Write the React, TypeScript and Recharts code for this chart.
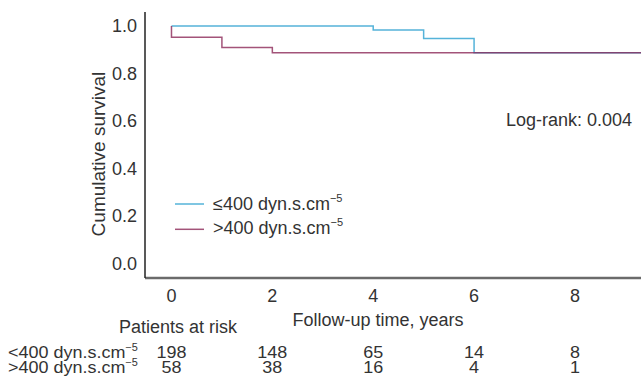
import React from "react";
import { LineChart, Line, XAxis, YAxis, Customized } from "recharts";

// Kaplan-Meier step data (years, survival)
const lowTimes = [0, 4, 5, 6, 9.31];
const lowSurv = [1.0, 0.983, 0.947, 0.887, 0.887];
const highTimes = [0, 0, 1, 2, 9.31];
const highSurv = [1.0, 0.953, 0.909, 0.887, 0.887];

const xTicks = [0, 2, 4, 6, 8];
const yTicks = [0, 0.2, 0.4, 0.6, 0.8, 1.0];
const riskLow = [198, 148, 65, 14, 8];
const riskHigh = [58, 38, 16, 4, 1];

const groupLow = "≤400 dyn.s.cm";
const groupHigh = ">400 dyn.s.cm";
const rowLow = "<400 dyn.s.cm";
const rowHigh = ">400 dyn.s.cm";
const sup = "−5";
const logRank = "Log-rank: 0.004";

const lowData = lowTimes.map((t, i) => ({ t, s: lowSurv[i] }));
const highData = highTimes.map((t, i) => ({ t, s: highSurv[i] }));

const FONT = "'Liberation Sans', Arial, Helvetica, sans-serif";
const TXT = "#333";
const BLUE = "#55b3d9";
const RED = "#8c2857";
const FS = 18;
const RFS = 16.5; // at-risk rows font size (slightly widened)
const RSX = 1.09;

const XTick = (props: any) => {
  const { x, y, payload, index } = props;
  return (
    <g>
      <text x={x} y={y + 15.5} textAnchor="middle" fontSize={FS} fill={TXT} fontFamily={FONT}>
        {payload.value}
      </text>
      <text
        transform={`translate(${x} ${y + 72}) scale(${RSX} 1)`}
        textAnchor="middle"
        fontSize={RFS}
        fill={TXT}
        fontFamily={FONT}
      >
        {riskLow[index]}
      </text>
      <text
        transform={`translate(${x} ${y + 87}) scale(${RSX} 1)`}
        textAnchor="middle"
        fontSize={RFS}
        fill={TXT}
        fontFamily={FONT}
      >
        {riskHigh[index]}
      </text>
    </g>
  );
};

const Overlay = () => (
  <g fontFamily={FONT} fill={TXT} fontSize={FS}>
    <text x={378} y={325.5} textAnchor="middle">Follow-up time, years</text>
    <text x={178} y={332.5} textAnchor="middle">Patients at risk</text>
    <text transform={`translate(8 358) scale(${RSX} 1)`} fontSize={RFS}>
      {rowLow}
      <tspan dy={-7.5} fontSize={10}>{sup}</tspan>
    </text>
    <text transform={`translate(8 373) scale(${RSX} 1)`} fontSize={RFS}>
      {rowHigh}
      <tspan dy={-7.5} fontSize={10}>{sup}</tspan>
    </text>
    <text x={632} y={126} textAnchor="end">{logRank}</text>
    <line x1={175} x2={204} y1={204} y2={204} stroke={BLUE} strokeWidth={1.5} />
    <line x1={175} x2={204} y1={229.3} y2={229.3} stroke={RED} strokeOpacity={0.8} strokeWidth={1.5} />
    <text x={213} y={210}>
      {groupLow}
      <tspan dy={-8} fontSize={11}>{sup}</tspan>
    </text>
    <text x={213} y={233.5}>
      {groupHigh}
      <tspan dy={-8} fontSize={11}>{sup}</tspan>
    </text>
  </g>
);

export default function App() {
  return (
    <div style={{ position: "absolute", left: 0, top: 0, width: 641, height: 386, background: "#fff" }}>
      <LineChart width={641} height={386} margin={{ top: 12, right: 0, left: 0, bottom: 78 }}>
        <XAxis
          type="number"
          dataKey="t"
          domain={[-0.525, 9.31]}
          ticks={xTicks}
          tickLine={false}
          axisLine={{ stroke: "#6b6b6b", strokeWidth: 2.5 }}
          tick={<XTick />}
          height={30}
          allowDataOverflow
        />
        <YAxis
          type="number"
          dataKey="s"
          domain={[-0.062, 1.059]}
          ticks={yTicks}
          tickLine={false}
          axisLine={{ stroke: "#222", strokeWidth: 1.5 }}
          tickFormatter={(v: number) => v.toFixed(1)}
          tick={{ fontSize: FS, fill: TXT, fontFamily: FONT }}
          tickMargin={2}
          width={145}
          allowDataOverflow
          label={{
            value: "Cumulative survival",
            angle: -90,
            position: "insideLeft",
            dx: 93,
            dy: 9,
            style: { fontSize: 19, fill: TXT, fontFamily: FONT, textAnchor: "middle" },
          }}
        />
        <Line
          data={lowData}
          dataKey="s"
          type="stepAfter"
          stroke={BLUE}
          strokeWidth={1.5}
          dot={false}
          isAnimationActive={false}
        />
        <Line
          data={highData}
          dataKey="s"
          type="stepAfter"
          stroke={RED}
          strokeOpacity={0.8}
          strokeWidth={1.5}
          dot={false}
          isAnimationActive={false}
        />
        <Customized component={Overlay} />
      </LineChart>
    </div>
  );
}
